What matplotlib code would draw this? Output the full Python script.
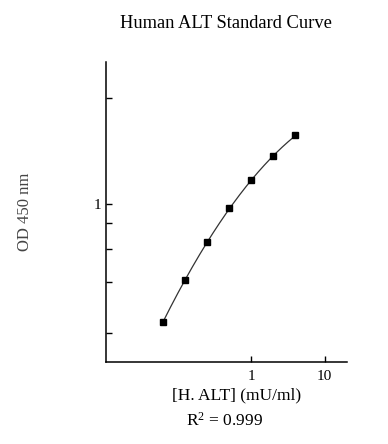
import numpy as np
import matplotlib
matplotlib.use("Agg")
import matplotlib.pyplot as plt

# Data
conc = [0.0625, 0.125, 0.25, 0.5, 1, 2, 4]          # mU/ml
od = [0.248, 0.405, 0.635, 0.945, 1.315, 1.752, 2.238]
x_ticks = [1, 10]
x_tick_labels = ["1", "10"]
y_major = [1]
y_major_labels = ["1"]
y_minor = [0.216, 0.394, 0.582, 0.791, 3.46]

title = "Human ALT Standard Curve"
xlabel = "[H. ALT] (mU/ml)"
ylabel = "OD 450 nm"
r2_text = r"R$^{2}$ = 0.999"

plt.rcParams['font.family'] = ['Liberation Serif', 'DejaVu Serif']
plt.rcParams['mathtext.fontset'] = 'custom'
plt.rcParams['mathtext.rm'] = 'Liberation Serif'
plt.rcParams['mathtext.it'] = 'Liberation Serif'
plt.rcParams['mathtext.default'] = 'rm'

fig = plt.figure(figsize=(3.88, 4.44), dpi=100)
ax = fig.add_axes([105.7/388, 1-362/444, 241/388, 299.7/444])

# fitted smooth curve (quadratic in log-log)
lx = np.log10(conc)
ly = np.log10(od)
coef = np.polyfit(lx, ly, 2)
xs = np.linspace(lx.min(), lx.max(), 200)
ax.plot(10**xs, 10**np.polyval(coef, xs), color='#333333', lw=0.9, zorder=2)
ax.plot(conc, od, 's', color='black', ms=4.2, zorder=3)

ax.set_xscale('log')
ax.set_yscale('log')
ax.set_xlim(0.0103, 20)
ax.set_ylim(0.154, 5.3)

ax.set_xticks(x_ticks)
ax.set_xticklabels(x_tick_labels)
ax.xaxis.set_minor_locator(matplotlib.ticker.NullLocator())
ax.set_yticks(y_major)
ax.set_yticklabels(y_major_labels)
ax.set_yticks(y_minor, minor=True)
ax.yaxis.set_minor_formatter(matplotlib.ticker.NullFormatter())

for s in ['top', 'right']:
    ax.spines[s].set_visible(False)
for s in ['left', 'bottom']:
    ax.spines[s].set_linewidth(1.1)

ax.tick_params(axis='both', which='both', direction='in', length=4.5, width=1.0,
               labelsize=11, colors='black')
ax.tick_params(axis='x', pad=6)
ax.tick_params(axis='y', pad=3)

ax.text(-0.335, 0.5, ylabel, transform=ax.transAxes, rotation=90,
        ha='center', va='center', fontsize=12, color='#444444')
ax.text(0.541, -0.110, xlabel, transform=ax.transAxes, ha='center', va='center',
        fontsize=12.5)
ax.text(0.495, -0.195, r2_text, transform=ax.transAxes, ha='center', va='center',
        fontsize=12.5)

fig.text(225.5/388, 1-23.7/444, title, ha='center', va='center', fontsize=13.3)

fig.savefig("out.png", dpi=100)
